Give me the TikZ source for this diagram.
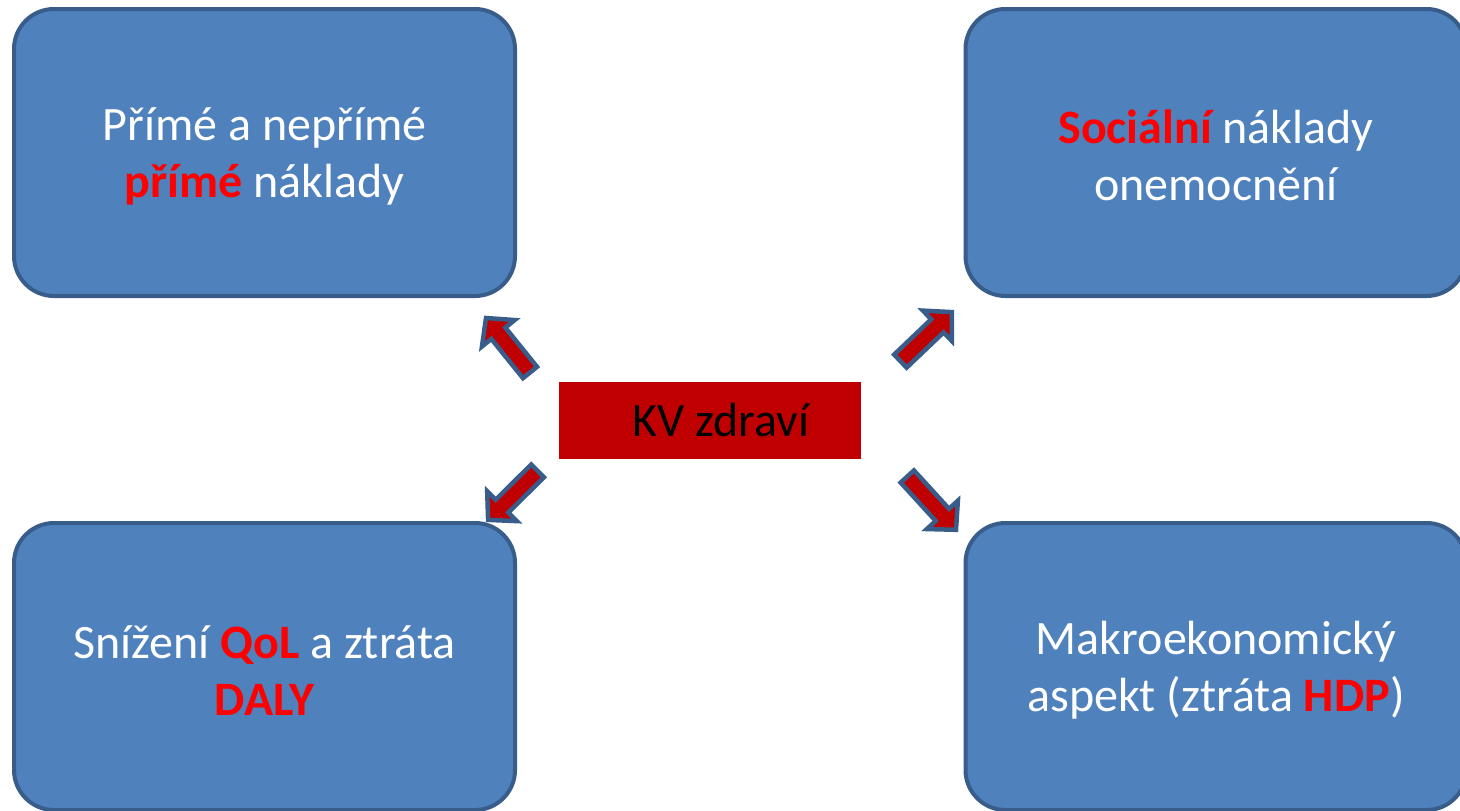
\documentclass[tikz,border=0pt]{standalone}
\usepackage{fontspec}
\setmainfont{Carlito}
\usetikzlibrary{calc}
\definecolor{boxblue}{HTML}{4F81BD}
\definecolor{boxline}{HTML}{385D8A}
\definecolor{kvred}{HTML}{C00000}
\definecolor{hlred}{HTML}{FF0000}
\newcommand\redword[1]{{\bfseries\color{hlred}#1}}
\newcommand\blockarrow[3]{%
  \coordinate (#1s) at ($(#2)!0.72!(#3)$);
  \draw[blockarr] ($(#2)!9pt!90:(#3)$) -- ($(#1s)!9pt!90:(#3)$) -- ($(#1s)!21pt!90:(#3)$) -- (#3) -- ($(#1s)!21pt!-90:(#3)$) -- ($(#1s)!9pt!-90:(#3)$) -- ($(#2)!9pt!-90:(#3)$) -- cycle;}
\begin{document}
\begin{tikzpicture}[x=1pt,y=-1pt,
  bluebox/.style={draw=boxline, fill=boxblue, line width=4pt, rounded corners=40pt,
    minimum width=501pt, minimum height=287pt, inner sep=0pt},
  boxtext/.style={align=center, inner sep=0pt, text=white, font=\fontsize{48}{57}\selectfont},
  kvbox/.style={fill=kvred, minimum width=302pt, minimum height=77pt, inner sep=0pt,
    text=black, font=\fontsize{48}{57}\selectfont},
  blockarr/.style={fill=kvred, draw=boxline, line width=4.5pt, line join=miter}]
\useasboundingbox (0,0) rectangle (1460,811);
\fill[white] (0,0) rectangle (1460,811);
\node[bluebox] (tl) at (264.5,152.5) {};
\node[bluebox] (tr) at (1216,152.5) {};
\node[bluebox] (bl) at (264.5,666.5) {};
\node[bluebox] (br) at (1216,666.5) {};
\node[boxtext] (tltext) at ([yshift=-4pt]tl.center) {Přímé a nepřímé\\\redword{přímé} náklady};
\node[boxtext] (trtext) at ([yshift=-3pt]tr.center) {\redword{Sociální} náklady\\onemocnění};
\node[boxtext] (bltext) at ([yshift=-4pt]bl.center) {Snížení \redword{QoL} a ztráta\\\redword{DALY}};
\node[boxtext] (brtext) at ([yshift=-4pt]br.center) {Makroekonomický\\aspekt (ztráta \redword{HDP})};
\node[kvbox] (kv) at (710,420.5) {\hspace*{22pt}KV zdraví};
\coordinate (a1tail) at (530,372.5);   \coordinate (a1tip) at (486,318);
\coordinate (a2tail) at (900.4,361.1); \coordinate (a2tip) at (951.8,312.1);
\coordinate (a3tail) at (537.6,470.9); \coordinate (a3tip) at (488.1,519.9);
\coordinate (a4tail) at (907.3,476.5); \coordinate (a4tip) at (956,529.8);
\blockarrow{a1}{a1tail}{a1tip}
\blockarrow{a2}{a2tail}{a2tip}
\blockarrow{a3}{a3tail}{a3tip}
\blockarrow{a4}{a4tail}{a4tip}
\end{tikzpicture}
\end{document}
